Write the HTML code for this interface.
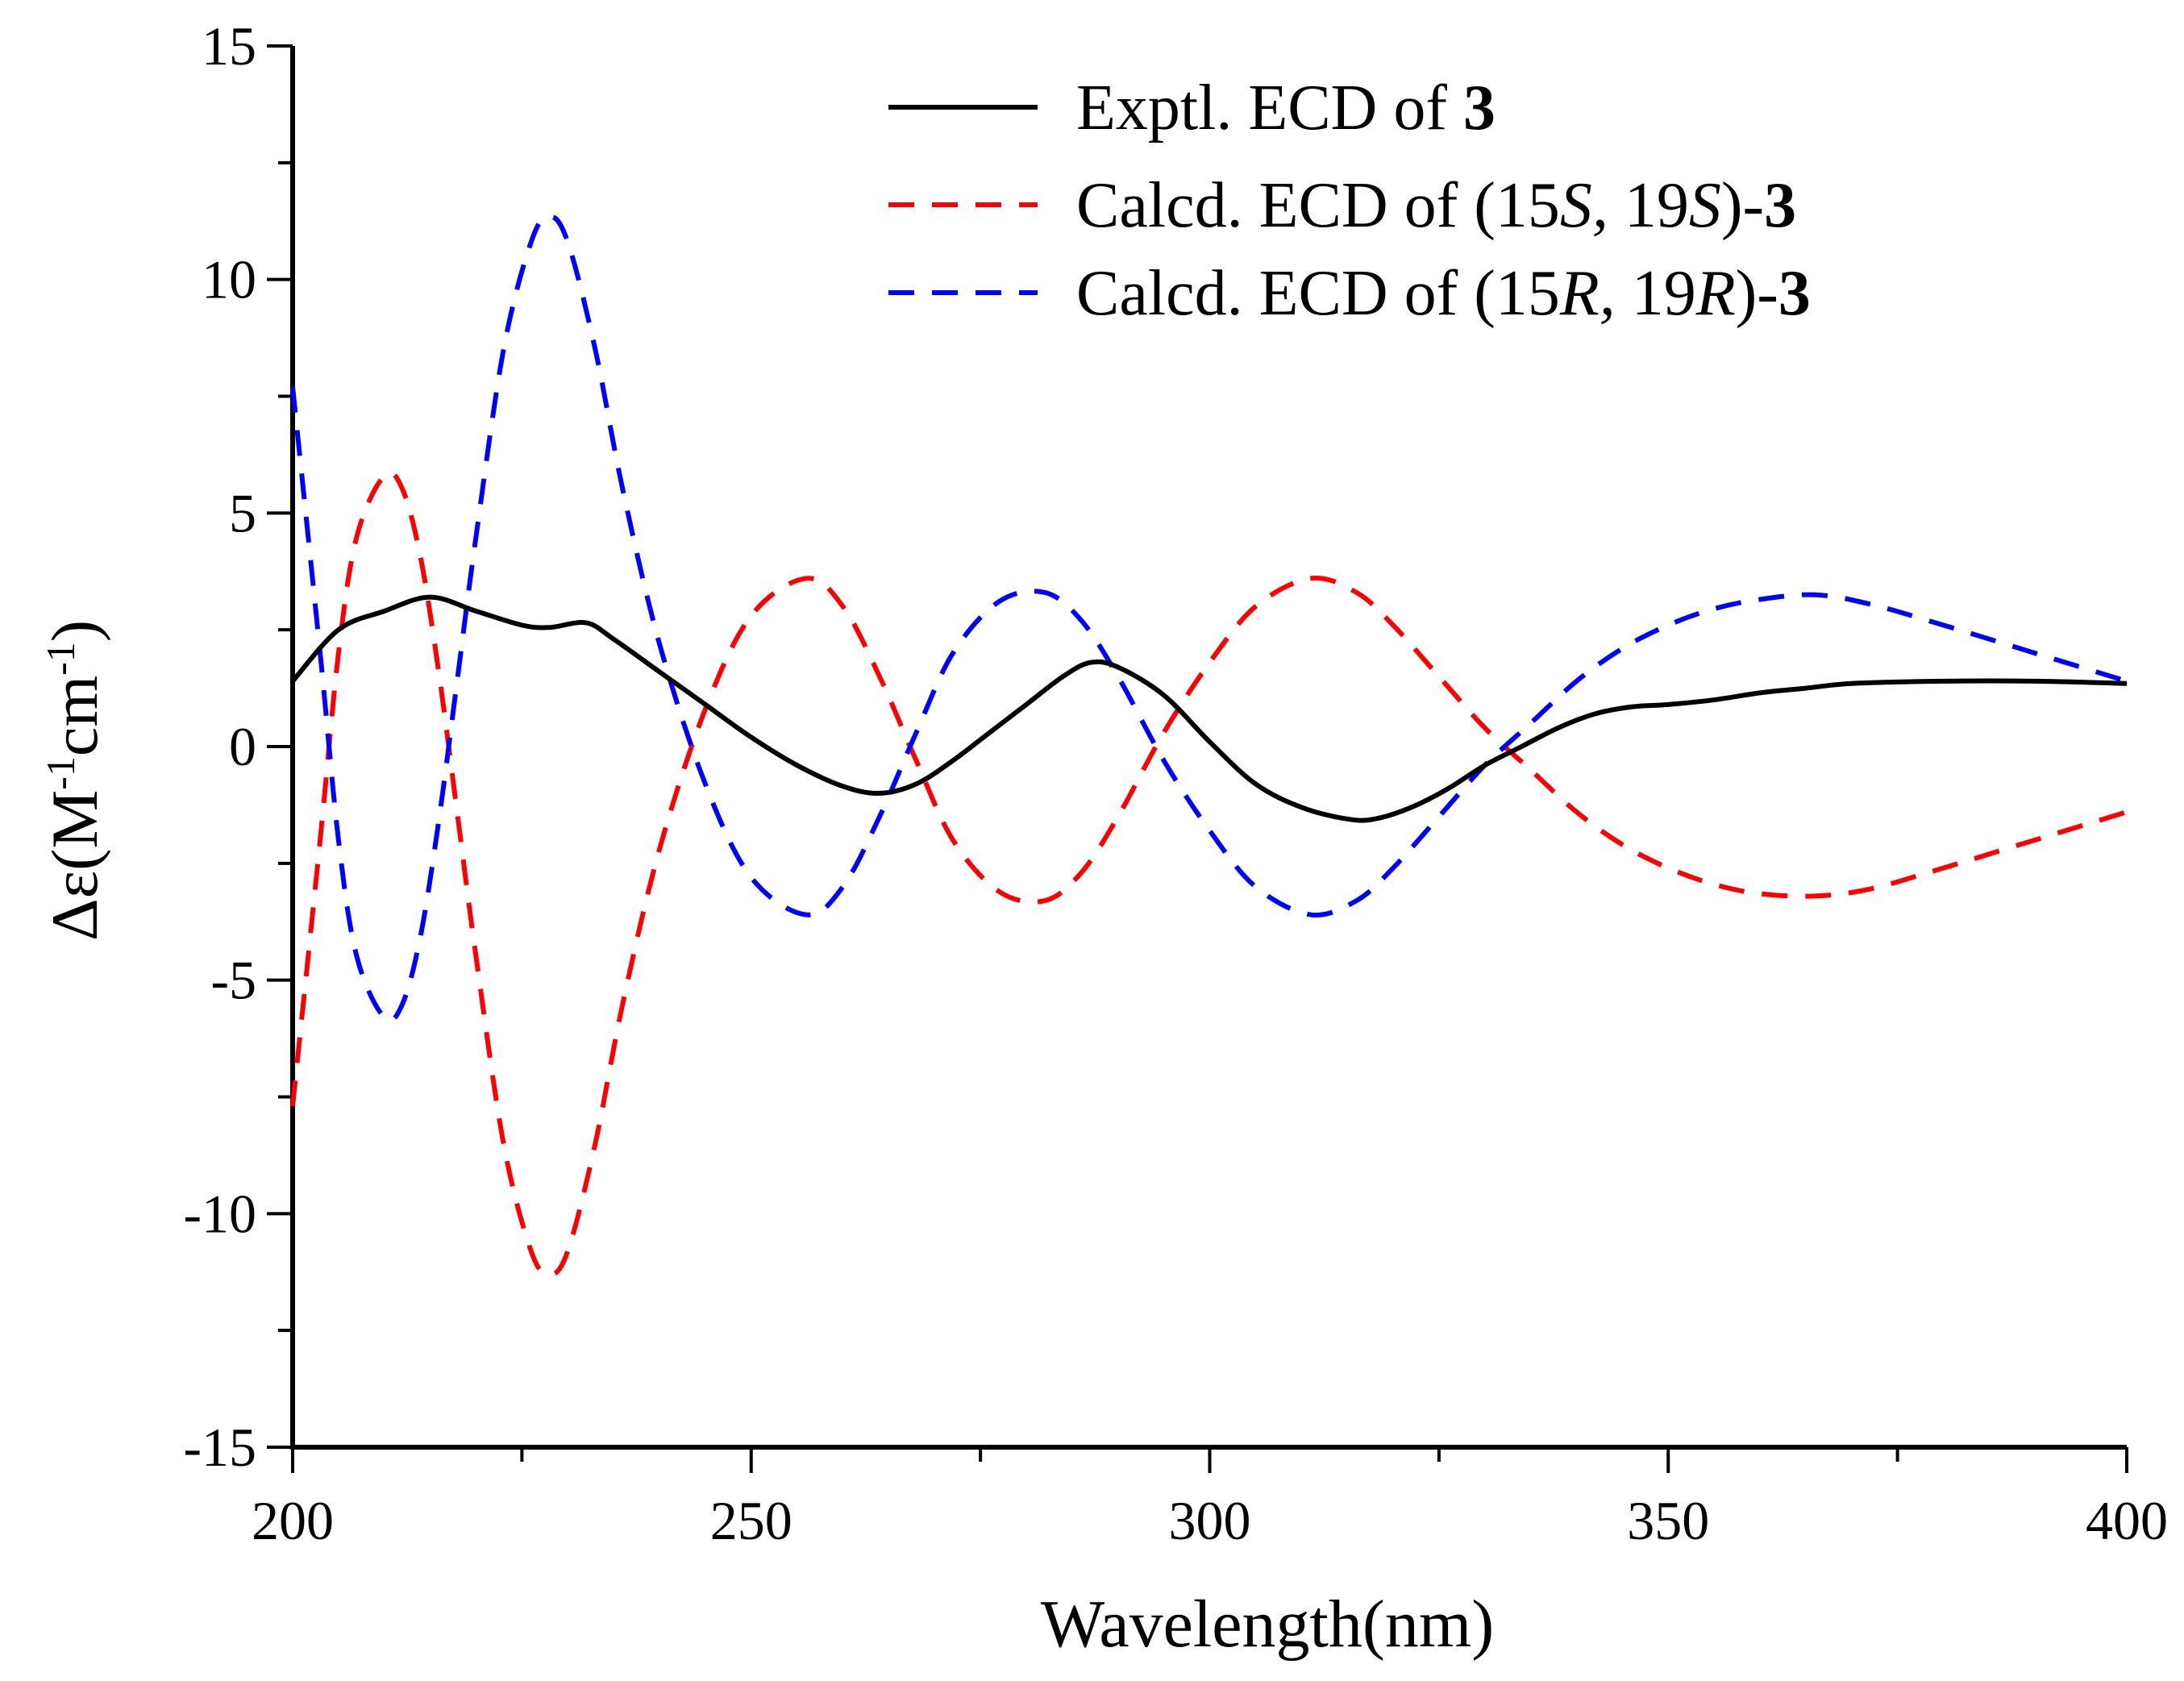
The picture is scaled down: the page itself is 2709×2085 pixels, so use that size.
<!DOCTYPE html>
<html><head><meta charset="utf-8"><style>
body{margin:0;background:#fff}
svg{display:block;font-family:"Liberation Serif",serif}
</style></head><body>
<svg id="chart" width="2709" height="2085" viewBox="0 0 2709 2085">
<g id="axes"></g>
<g id="series"></g>
<g id="legend">
 <line x1="1102" y1="133" x2="1287" y2="133" stroke="#000" stroke-width="6"/>
 <text x="1335" y="160" font-size="80">Exptl. ECD of <tspan font-weight="bold">3</tspan></text>
 <line x1="1102" y1="254" x2="1287" y2="254" stroke="#ff0000" stroke-width="6" stroke-dasharray="32,22"/>
 <text x="1335" y="281" font-size="80">Calcd. ECD of (15<tspan font-style="italic">S,</tspan> 19<tspan font-style="italic">S</tspan>)-<tspan font-weight="bold">3</tspan></text>
 <line x1="1102" y1="363" x2="1287" y2="363" stroke="#0000ff" stroke-width="6" stroke-dasharray="32,22"/>
 <text x="1335" y="390" font-size="80">Calcd. ECD of (15<tspan font-style="italic">R,</tspan> 19<tspan font-style="italic">R</tspan>)-<tspan font-weight="bold">3</tspan></text>
</g>
</svg>
<script>
const xTicks=[200,250,300,350,400];
const yTicks=[-15,-10,-5,0,5,10,15];
const exptlX=[200,205,210,215,220,225,228,232,235,240,245,250,255,260,264,268,272,276,280,284,287,290,295,300,305,310,315,318,322,326,330,334,338,342,346,350,355,360,365,370,380,390,400];
const exptlY=[1.4,2.5,2.9,3.2,2.9,2.6,2.55,2.65,2.3,1.6,0.9,0.2,-0.4,-0.85,-1.0,-0.8,-0.3,0.3,0.9,1.5,1.8,1.7,1.1,0.1,-0.8,-1.3,-1.55,-1.55,-1.3,-0.9,-0.4,0.0,0.4,0.7,0.85,0.9,1.0,1.15,1.25,1.35,1.4,1.4,1.35];
const calcX=[200,203,205,207,210,212,214,216,218,220,223,226,228,230,233,236,240,245,250,256,260,264,268,272,277,282,286,290,295,300,305,311,316,320,325,330,335,340,345,350,355,360,366,372,380,390,400];
const calcSY=[-7.7,-2,2,4.5,5.8,5.5,4,1.5,-1.5,-4.5,-8.5,-10.8,-11.3,-10.8,-8.5,-5.5,-2.2,0.8,2.8,3.6,3.0,1.5,-0.3,-2,-3.1,-3.3,-2.7,-1.5,0.3,1.8,3.0,3.6,3.3,2.6,1.5,0.4,-0.5,-1.4,-2.1,-2.6,-2.95,-3.15,-3.2,-3.05,-2.6,-2.0,-1.4];
const calcRY=[7.7,2,-2,-4.5,-5.8,-5.5,-4,-1.5,1.5,4.5,8.5,10.8,11.35,10.8,8.5,5.5,2.2,-0.8,-2.8,-3.6,-3.0,-1.5,0.3,2,3.1,3.3,2.7,1.5,-0.3,-1.8,-3.0,-3.6,-3.3,-2.6,-1.5,-0.4,0.5,1.4,2.1,2.6,2.95,3.15,3.25,3.05,2.6,2.0,1.4];
const NS='http://www.w3.org/2000/svg';
const X0=363,X1=2638,Y0=1795,Y1=57;
function sx(v){return X0+(v-200)/200*(X1-X0);}
function sy(v){return Y0-(v+15)/30*(Y0-Y1);}
function mk(tag,attrs,parent){const e=document.createElementNS(NS,tag);for(const k in attrs)e.setAttribute(k,attrs[k]);parent.appendChild(e);return e;}
const axes=document.getElementById('axes');
let l=mk('line',{x1:X0,y1:Y1,x2:X0,y2:Y0+3,stroke:'#000','stroke-width':6},axes);


l=mk('line',{x1:X0-3,y1:Y0,x2:X1,y2:Y0,stroke:'#000','stroke-width':6},axes);


for(let v=200;v<=400;v+=25){const major=v%50===0;
 const t=mk('line',{x1:sx(v),y1:Y0,x2:sx(v),y2:Y0+(major?32:18),stroke:'#000','stroke-width':4},axes);
 
 }
xTicks.forEach(v=>{const t=mk('text',{x:sx(v),y:Y0+114,'font-size':68,'text-anchor':'middle'},axes);t.textContent=v;
 
 });
for(let v=-15;v<=15;v+=2.5){const major=v%5===0;
 const t=mk('line',{x1:X0,y1:sy(v),x2:X0-(major?32:18),y2:sy(v),stroke:'#000','stroke-width':4},axes);
 
 }
yTicks.forEach(v=>{const t=mk('text',{x:X0-45,y:sy(v)+23,'font-size':68,'text-anchor':'end'},axes);t.textContent=v;
 
 });
let tt=mk('text',{x:1572,y:2042,'font-size':84,'text-anchor':'middle'},axes);tt.textContent='Wavelength(nm)';


tt=mk('text',{x:0,y:0,'font-size':82,'text-anchor':'middle',transform:'translate(120,968) rotate(-90)'},axes);
tt.innerHTML='Δε(M<tspan baseline-shift="super" font-size="50">-1</tspan>cm<tspan baseline-shift="super" font-size="50">-1</tspan>)';


const series=document.getElementById('series');
function path(xs,ys,color,dash,name){
 const p=xs.map((x,i)=>[sx(x),sy(ys[i])]);
 let d='M'+p[0][0]+','+p[0][1];
 for(let i=0;i<p.length-1;i++){const a=p[Math.max(0,i-1)],b=p[i],c=p[i+1],e=p[Math.min(p.length-1,i+2)];
  d+=' C'+(b[0]+(c[0]-a[0])/6)+','+(b[1]+(c[1]-a[1])/6)+' '+(c[0]-(e[0]-b[0])/6)+','+(c[1]-(e[1]-b[1])/6)+' '+c[0]+','+c[1];}
 const el=mk('path',{d:d,fill:'none',stroke:color,'stroke-width':6},series);
 if(dash)el.setAttribute('stroke-dasharray','32,22');
 
 
}
path(calcX,calcSY,'#ff0000',true,'series-calcd-15s19s');
path(calcX,calcRY,'#0000ff',true,'series-calcd-15r19r');
path(exptlX,exptlY,'#000000',false,'series-exptl');
</script>
</body></html>
